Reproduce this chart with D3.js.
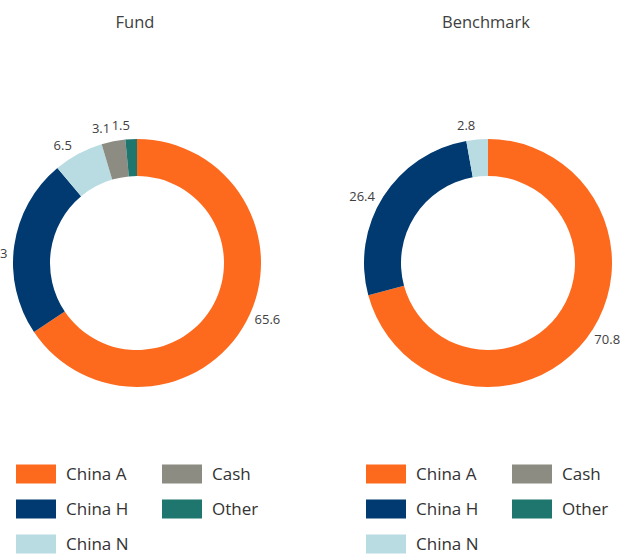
<!DOCTYPE html>
<html>
<head>
<meta charset="utf-8">
<script src="https://cdn.jsdelivr.net/npm/d3@7"></script>
<style>
  body { margin: 0; background: #fff; }
  text { font-family: "Open Sans", sans-serif; }
</style>
</head>
<body>
<div class="donuts"></div>
<script>
const categories = ["China A", "China H", "China N", "Cash", "Other"];
const colors = ["#fd6a1e", "#003a70", "#b8dce2", "#8c8c82", "#1e766f"];
const fundValues = [65.6, 23.3, 6.5, 3.1, 1.5];
const benchmarkValues = [70.8, 26.4, 2.8, 0, 0];
const chartTitles = ["Fund", "Benchmark"];

const width = 642, height = 554;
const outerR = 124, innerR = 87;
const labelTurn = -4 * Math.PI / 180; // labels sit a touch counter-clockwise of the mid angle

const svg = d3.select(".donuts")
  .append("svg")
  .attr("width", width)
  .attr("height", height);

const color = d3.scaleOrdinal().domain(categories).range(colors);

const pie = d3.pie()
  .sort(null)
  .value(d => d.value);

const arc = d3.arc()
  .innerRadius(innerR)
  .outerRadius(outerR);

const drawDonut = (title, values, cx, cy) => {
  const data = categories.map((c, i) => ({ name: c, value: values[i] }));
  const g = svg.append("g").attr("transform", `translate(${cx},${cy})`);

  svg.append("text")
    .attr("x", cx - 2)
    .attr("y", 28)
    .attr("text-anchor", "middle")
    .attr("font-size", 16.5)
    .attr("fill", "#404040")
    .text(title);

  const arcs = pie(data).filter(d => d.data.value > 0);

  g.selectAll("path")
    .data(arcs)
    .enter()
    .append("path")
    .attr("d", arc)
    .attr("fill", d => color(d.data.name));

  // labels just outside the ring, text box pushed away along the mid angle
  g.selectAll(".lbl")
    .data(arcs)
    .enter()
    .append("text")
    .attr("class", "lbl")
    .attr("font-size", 13)
    .attr("fill", "#404040")
    .attr("text-anchor", "middle")
    .attr("dy", "0.35em")
    .text(d => d3.format(".1f")(d.data.value))
    .each(function (d) {
      const a = (d.startAngle + d.endAngle) / 2 + labelTurn;
      const bb = this.getBBox();
      const r = outerR + 6;
      const x = Math.sin(a) * r + Math.sin(a) * bb.width / 2;
      const y = -Math.cos(a) * r - Math.cos(a) * bb.height / 2;
      d3.select(this).attr("x", x).attr("y", y);
    });
};

const drawLegend = (x0, y0) => {
  const g = svg.append("g").attr("transform", `translate(${x0},${y0})`);
  const item = g.selectAll("g")
    .data(categories)
    .enter()
    .append("g")
    .attr("transform", (d, i) => `translate(${i < 3 ? 0 : 146},${(i % 3) * 35})`);

  item.append("rect")
    .attr("width", 40)
    .attr("height", 19)
    .attr("y", -9.5)
    .attr("fill", d => color(d));

  item.append("text")
    .attr("x", 50)
    .attr("dy", "0.35em")
    .attr("font-size", 17)
    .attr("fill", "#333")
    .text(d => d);
};

drawDonut(chartTitles[0], fundValues, 137, 263);
drawDonut(chartTitles[1], benchmarkValues, 488, 263);
drawLegend(16, 474);
drawLegend(366, 474);
</script>
</body>
</html>
